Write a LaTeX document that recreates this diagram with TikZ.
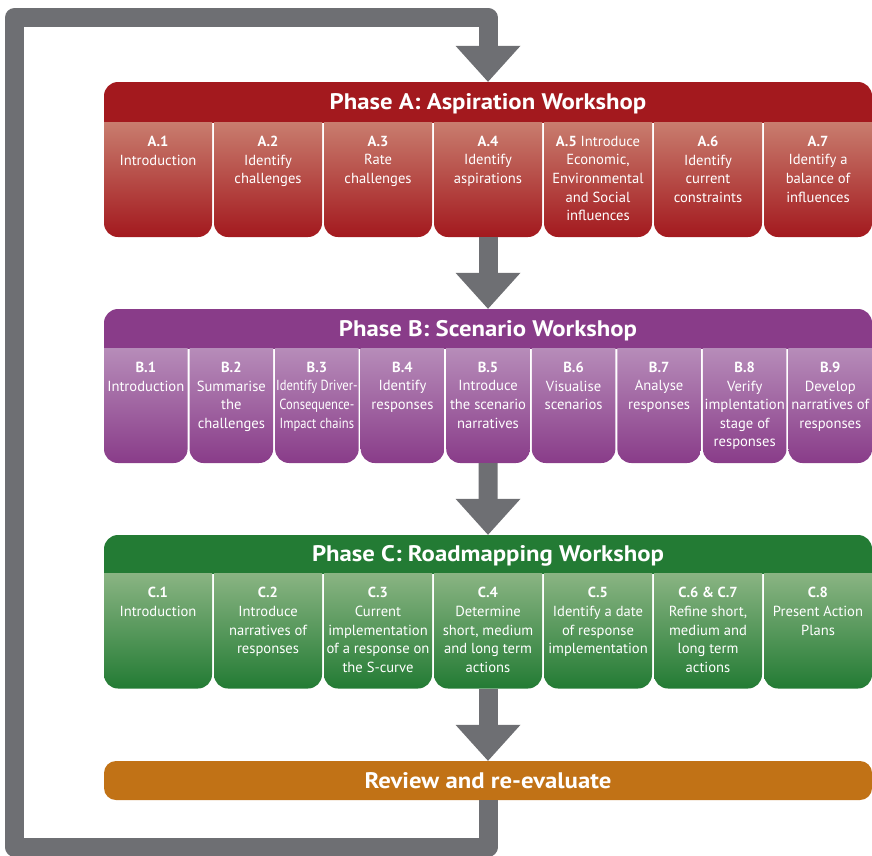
\documentclass[tikz,border=0pt]{standalone}
\usepackage{fontspec}
\setmainfont{PT Sans}
\usetikzlibrary{arrows.meta,positioning}
\definecolor{phasered}{RGB}{163,25,30}
\definecolor{redtop}{RGB}{205,137,120}
\definecolor{phasepurple}{RGB}{137,60,137}
\definecolor{purpletop}{RGB}{188,150,191}
\definecolor{phasegreen}{RGB}{35,123,52}
\definecolor{greentop}{RGB}{150,187,140}
\definecolor{revieworange}{RGB}{193,114,22}
\definecolor{loopgray}{RGB}{110,111,115}
\newcommand{\titlefont}{\fontsize{22.5}{24}\selectfont\bfseries\addfontfeature{FakeStretch=1.1}}
\tikzset{
  every node/.style={font=\fontsize{14.6}{18.6}\selectfont, text=white},
  headbar/.style={rounded corners=14pt, minimum width=768pt,
    minimum height=54pt, inner sep=0pt},
  headtitle/.style={font=\titlefont, inner sep=0pt},
  stepbox/.style={rounded corners=14pt, minimum height=129pt, inner sep=0pt},
  redbox/.style={stepbox, minimum width=108pt, top color=redtop, bottom color=phasered},
  purplebox/.style={stepbox, minimum width=83.56pt, top color=purpletop, bottom color=phasepurple},
  greenbox/.style={stepbox, minimum width=108pt, top color=greentop, bottom color=phasegreen},
  steptext/.style={align=center, inner sep=0pt},
  flow/.style={line width=19pt, draw=loopgray, line join=round,
    -{Triangle[width=65pt, length=36pt, line width=0pt]}}
}

\begin{document}
\begin{tikzpicture}[x=1pt, y=-1pt]
  \useasboundingbox (0,0) rectangle (872,855);

  % phase A
  \begin{scope}
    \clip (0,0) rectangle (872,122);
    \node[headbar, fill=phasered] (Ahead) at (488,109) {};
  \end{scope}
  \node[headtitle] (Atitle) at (488,104) {Phase A: Aspiration Workshop};
  \begin{scope}
    \clip (0,122) rectangle (872,240);
    \foreach \i in {1,...,7}
      \node[redbox] (a\i) at ({158+110*(\i-1)},172.5) {};
  \end{scope}
  \foreach \i/\txt in {
      1/{\textbf{A.1}\\Introduction},
      2/{\textbf{A.2}\\Identify\\challenges},
      3/{\textbf{A.3}\\Rate\\challenges},
      4/{\textbf{A.4}\\Identify\\aspirations},
      5/{\textbf{A.5} Introduce\\Economic,\\Environmental\\and Social\\influences},
      6/{\textbf{A.6}\\Identify\\current\\constraints},
      7/{\textbf{A.7}\\Identify a\\balance of\\influences}}
    \node[steptext, below=28pt of a\i.north] (a\i text) {\txt};

  % phase B
  \begin{scope}
    \clip (0,0) rectangle (872,348);
    \node[headbar, fill=phasepurple] (Bhead) at (488,336) {};
  \end{scope}
  \node[headtitle] (Btitle) at (488,331) {Phase B: Scenario Workshop};
  \begin{scope}
    \clip (0,348) rectangle (872,466);
    \foreach \i in {1,...,9}
      \node[purplebox] (b\i) at ({145.78+85.56*(\i-1)},398.5) {};
  \end{scope}
  \foreach \i/\txt in {
      1/{\textbf{B.1}\\Introduction},
      2/{\textbf{B.2}\\Summarise\\the\\challenges},
      3/{\textbf{B.3}\\\addfontfeature{FakeStretch=0.86}Identify Driver-\\
         \addfontfeature{FakeStretch=0.86}Consequence-\\
         \addfontfeature{FakeStretch=0.86}Impact chains},
      4/{\textbf{B.4}\\Identify\\responses},
      5/{\textbf{B.5}\\Introduce\\the scenario\\narratives},
      6/{\textbf{B.6}\\Visualise\\scenarios},
      7/{\textbf{B.7}\\Analyse\\responses},
      8/{\textbf{B.8}\\Verify\\implentation\\stage of\\responses},
      9/{\textbf{B.9}\\Develop\\narratives of\\responses}}
    \node[steptext, below=28pt of b\i.north] (b\i text) {\txt};

  % phase C
  \begin{scope}
    \clip (0,0) rectangle (872,573);
    \node[headbar, fill=phasegreen] (Chead) at (488,562) {};
  \end{scope}
  \node[headtitle] (Ctitle) at (488,556) {Phase C: Roadmapping Workshop};
  \begin{scope}
    \clip (0,573) rectangle (872,692);
    \foreach \i in {1,...,7}
      \node[greenbox] (c\i) at ({158+110*(\i-1)},624) {};
  \end{scope}
  \foreach \i/\txt in {
      1/{\textbf{C.1}\\Introduction},
      2/{\textbf{C.2}\\Introduce\\narratives of\\responses},
      3/{\textbf{C.3}\\Current\\implementation\\of a response on\\the S-curve},
      4/{\textbf{C.4}\\Determine\\short, medium\\and long term\\actions},
      5/{\textbf{C.5}\\Identify a date\\of response\\implementation},
      6/{\textbf{C.6 \& C.7}\\Refine short,\\medium and\\long term\\actions},
      7/{\textbf{C.8}\\Present Action\\Plans}}
    \node[steptext, below=28pt of c\i.north] (c\i text) {\txt};

  % review
  \node[rounded corners=12pt, fill=revieworange, minimum width=768pt,
    minimum height=39pt, inner sep=0pt, font=\titlefont]
    (rev) at (488,780.5) {Review and re-evaluate};

  % arrows and feedback loop
  \coordinate (bl) at (14.5,847);
  \coordinate (tl) at (14.5,17.5);
  \draw[flow] (a4.south) -- (Bhead.north);
  \draw[flow] (b5.south) -- (Chead.north);
  \draw[flow] (c4.south) -- (rev.north);
  \draw[flow] (rev.south) |- (bl) -- (tl) -| (Ahead.north);
\end{tikzpicture}
\end{document}
